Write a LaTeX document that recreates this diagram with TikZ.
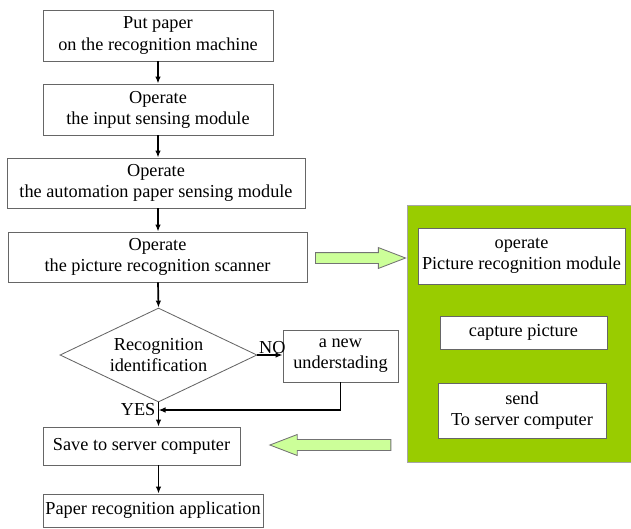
\documentclass[tikz,border=0pt]{standalone}
\usepackage{fontspec}
\setmainfont{Liberation Serif}
\usetikzlibrary{arrows.meta}
\usetikzlibrary{shapes.geometric}
\usetikzlibrary{shapes.arrows}

\definecolor{leafgreen}{HTML}{99CC00}
\definecolor{palegreen}{HTML}{CCFF99}

\newcommand{\px}{0.025cm}

\tikzset{
  stepbox/.style={draw=black!60, line width=0.6pt, fill=white, align=center,
    inner sep=0pt},
  flow/.style={line width=1.2pt, -{Latex[length=5pt,width=4pt]}},
  hollow/.style={single arrow, draw=black!55, fill=palegreen, line width=0.6pt,
    inner sep=5*\px, single arrow head extend=5*\px, single arrow tip angle=42,
    single arrow head indent=0pt, anchor=center}
}

\begin{document}
\begin{tikzpicture}[x=\px, y=-\px, every node/.style={font=\fontsize{13}{15}\selectfont}]
      \useasboundingbox (0,0) rectangle (631,528);

      % right block
      \node[fill=leafgreen, draw=black!35, minimum width=226*\px, minimum height=257*\px] (panel) at (520,333.5) {};
      \node[stepbox, minimum width=207*\px, minimum height=56*\px] (gmod) at (521.5,256) {operate\\Picture recognition module};
      \node[stepbox, minimum width=167*\px, minimum height=33*\px] (gcap) at (523.5,332.5) {capture picture};
      \node[stepbox, minimum width=168*\px, minimum height=55*\px] (gsend) at (522,410.5) {send\\To server computer};

      % main flow
      \node[stepbox, minimum width=230*\px, minimum height=51*\px] (put) at (158,35.5) {Put paper\\on the recognition machine};
      \node[stepbox, minimum width=230*\px, minimum height=51*\px] (input) at (158,109.5) {Operate\\the input sensing module};
      \node[stepbox, minimum width=298*\px, minimum height=50*\px] (auto) at (156,183) {Operate\\the automation paper sensing module};
      \node[stepbox, minimum width=299*\px, minimum height=50*\px] (scan) at (157.5,257) {Operate\\the picture recognition scanner};
      \node[diamond, draw=black!60, line width=0.6pt, aspect=2.1, inner sep=0pt, align=center,
        minimum width=197*\px, minimum height=94*\px] (ident) at (158.5,355) {Recognition\\identification};
      \node[stepbox, minimum width=115*\px, minimum height=52*\px] (new) at (340.5,356) {a new\\understading};
      \node[stepbox, minimum width=197*\px, minimum height=38*\px] (save) at (141.5,446) {Save to server computer};
      \node[stepbox, minimum width=220*\px, minimum height=33*\px] (app) at (153,510.5) {Paper recognition application};

      \coordinate (join) at (158.5,410);

      \draw[flow] (put) -- (input);
      \draw[flow] (input.south) -- (input.south |- auto.north);
      \draw[flow] (input.south |- auto.south) -- (input.south |- scan.north);
      \draw[flow] (input.south |- scan.south) -- (ident.north);
      \draw[flow] (ident.east) -- (new.west |- ident.east);
      \node[anchor=south west, inner sep=1pt] (no) at (ident.east) {NO};
      \draw[line width=1.2pt] (ident.south) -- (join);
      \node[anchor=east, inner sep=2pt] (yes) at (join) {YES};
      \draw[flow] (new.south) |- (join);
      \draw[flow] (join) -- (join |- save.north);
      \draw[flow] (join |- save.south) -- (join |- app.north);

      % hollow arrows
      \node[hollow, minimum height=90*\px, minimum width=19*\px] (toright) at (353.5,258) {};
      \node[hollow, shape border rotate=180, minimum height=121*\px, minimum width=21*\px] (toleft) at (337.5,445) {};
    \end{tikzpicture}
\end{document}
